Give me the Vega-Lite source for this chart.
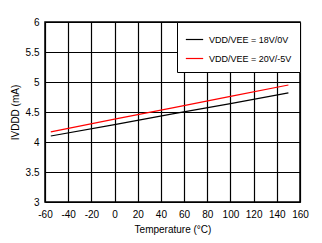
{
  "$schema": "https://vega.github.io/schema/vega-lite/v6.json",
  "width": 255,
  "height": 180,
  "autosize": "none",
  "padding": {"left": 45, "top": 22, "right": 22, "bottom": 41},
  "background": "white",
  "config": {
    "font": "Liberation Sans",
    "view": {"stroke": "black", "strokeWidth": 1.5},
    "axis": {
      "grid": true, "gridColor": "black", "gridOpacity": 1, "gridWidth": 1.2,
      "domain": false, "ticks": false, "labelOverlap": false, "labelFlush": false,
      "labelFont": "Liberation Sans", "labelFontSize": 10, "labelColor": "black",
      "titleFont": "Liberation Sans", "titleFontSize": 10, "titleFontWeight": "normal", "titleColor": "black",
      "labelExpr": "datum.value + ''"
    }
  },
  "data": {"values": [
    {"t": -55, "v": 4.10, "s": "VDD/VEE = 18V/0V"},
    {"t": 0, "v": 4.29, "s": "VDD/VEE = 18V/0V"},
    {"t": 50, "v": 4.47, "s": "VDD/VEE = 18V/0V"},
    {"t": 100, "v": 4.64, "s": "VDD/VEE = 18V/0V"},
    {"t": 150, "v": 4.82, "s": "VDD/VEE = 18V/0V"},
    {"t": -55, "v": 4.17, "s": "VDD/VEE = 20V/-5V"},
    {"t": 0, "v": 4.38, "s": "VDD/VEE = 20V/-5V"},
    {"t": 50, "v": 4.57, "s": "VDD/VEE = 20V/-5V"},
    {"t": 100, "v": 4.76, "s": "VDD/VEE = 20V/-5V"},
    {"t": 150, "v": 4.95, "s": "VDD/VEE = 20V/-5V"}
  ]},
  "mark": {"type": "line", "strokeWidth": 1.2},
  "encoding": {
    "x": {"field": "t", "type": "quantitative",
      "scale": {"domain": [-60, 160], "nice": false},
      "axis": {"values": [-60,-40,-20,0,20,40,60,80,100,120,140,160], "title": "Temperature (°C)", "labelPadding": 7, "titlePadding": 5}},
    "y": {"field": "v", "type": "quantitative",
      "scale": {"domain": [3, 6], "nice": false, "zero": false},
      "axis": {"values": [3,3.5,4,4.5,5,5.5,6], "title": "IVDDD (mA)", "labelPadding": 6, "titlePadding": 5}},
    "color": {"field": "s", "type": "nominal",
      "scale": {"domain": ["VDD/VEE = 18V/0V", "VDD/VEE = 20V/-5V"], "range": ["black", "red"]},
      "legend": {"title": null, "orient": "top-right", "offset": 0,
        "fillColor": "white", "strokeColor": "black", "padding": 8,
        "symbolType": "stroke", "symbolSize": 300, "symbolStrokeWidth": 1.2,
        "labelFont": "Liberation Sans", "labelFontSize": 9, "labelColor": "black", "rowPadding": 4, "labelOffset": 5}}
  }
}
